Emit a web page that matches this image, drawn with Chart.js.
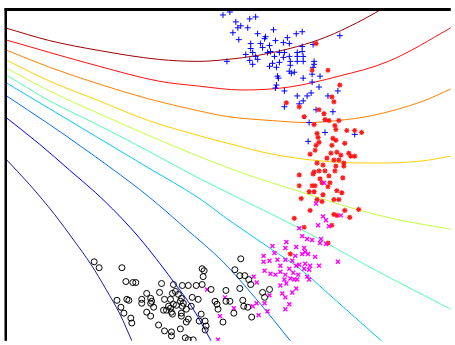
<!DOCTYPE html>
<html>
<head>
<meta charset="utf-8">
<script src="https://cdn.jsdelivr.net/npm/chart.js@4/dist/chart.umd.min.js"></script>
<style>
  html, body { margin: 0; padding: 0; background: #fff; overflow: hidden; }
  canvas { display: block; }
</style>
</head>
<body>
<canvas id="chart" width="455" height="345"></canvas>
<script>
// Sample groups, [x, y] pairs
const groupCircle = [
  [9.5,8.0],[10.0,7.4],[12.3,7.4],[12.7,6.0],[13.4,5.9],[13.7,5.9],[16.3,5.8],[17.5,5.7],[18.4,5.6],[19.0,5.6],
  [19.8,5.6],[20.4,7.3],[20.6,7.1],[20.5,6.5],[20.4,5.7],[21.3,5.2],[11.8,4.1],[12.8,4.2],[13.0,4.1],[14.3,4.2],
  [14.3,3.8],[14.8,4.8],[15.2,4.3],[15.3,4.0],[16.1,4.9],[16.6,4.2],[17.4,4.8],[17.7,5.0],[18.0,4.7],[17.2,4.2],
  [18.2,4.0],[18.5,3.8],[12.2,3.4],[14.8,2.9],[15.5,3.4],[16.5,3.1],[16.8,3.1],[17.2,3.3],[17.3,2.9],[17.4,2.7],
  [18.3,2.8],[19.3,3.5],[20.0,4.2],[21.7,4.0],[21.9,3.7],[22.0,3.2],[12.5,2.8],[15.2,2.5],[18.3,2.5],[19.0,2.2],
  [20.3,2.7],[13.2,2.3],[13.3,1.8],[16.0,1.6],[18.8,1.9],[20.1,2.0],[20.7,2.0],[20.8,1.5],[18.2,1.2],[20.7,1.1],
  [16.6,1.0],[17.3,0.9],[17.3,0.5],[18.7,0.3],[19.0,0.1],[19.5,0.1],[22.5,1.9],[22.8,5.1],[22.8,4.0],[23.2,4.0],
  [24.3,8.3],[23.7,7.2],[24.2,6.6],[24.7,6.6],[25.1,6.2],[25.3,5.7],[24.2,5.3],[26.5,4.9],[27.2,5.2],[26.7,4.4],
  [24.5,4.1],[24.6,3.5],[25.0,3.4],[23.6,2.8],[25.4,2.4],[19.4,4.4],[18.4,3.5],[17.5,3.7],[15.2,3.8],[18.3,4.3],
  [17.8,3.6],[17.0,3.5],[18.8,3.2]
];

const groupX = [
  [31.9,13.9],[32.7,16.0],[32.6,12.6],[32.9,12.2],[32.1,11.7],[33.2,11.6],[30.2,11.4],[34.4,12.7],[30.5,10.6],[31.0,10.3],
  [31.5,10.2],[32.4,10.3],[32.3,9.9],[32.9,9.8],[28.9,10.0],[28.8,9.4],[27.5,9.6],[29.9,9.5],[30.7,9.4],[30.8,9.0],
  [27.7,8.9],[31.1,8.8],[30.5,8.8],[31.8,8.5],[29.8,8.6],[26.6,8.6],[28.0,8.2],[28.8,8.2],[29.5,8.1],[30.2,7.7],
  [30.8,7.8],[31.3,7.6],[32.2,7.6],[34.1,8.0],[26.6,8.0],[27.2,8.1],[28.3,7.6],[29.2,7.3],[29.9,7.6],[30.7,7.3],
  [31.2,7.2],[26.7,7.1],[27.3,6.8],[27.8,6.7],[28.3,7.0],[28.8,6.7],[29.6,6.9],[30.1,6.7],[31.0,6.5],[31.2,6.2],
  [25.6,6.5],[25.9,5.9],[28.7,6.2],[29.3,6.3],[29.7,6.2],[30.0,6.2],[28.3,5.6],[28.9,5.8],[29.9,5.3],[29.5,4.9],
  [28.5,4.8],[28.8,4.4],[27.2,4.6],[25.9,3.8],[26.7,3.8],[29.2,3.7],[28.8,3.2],[25.5,3.5],[27.0,3.0],[26.1,2.6],
  [20.9,5.2],[22.7,4.4],[23.6,3.3],[22.2,2.5],[22.0,0.1]
];

const groupStar = [
  [31.9,30.1],[31.5,27.4],[33.1,27.4],[34.3,25.9],[28.9,24.1],[30.2,23.7],[33.5,24.7],[33.7,24.2],[32.2,23.4],[32.7,23.0],
  [30.7,22.7],[31.7,21.9],[32.8,22.4],[33.2,22.3],[34.2,22.3],[33.8,21.8],[33.9,21.4],[35.0,21.3],[35.8,21.3],[36.5,21.1],
  [32.0,21.0],[32.1,20.6],[32.2,20.1],[31.9,19.8],[33.6,20.5],[33.9,20.3],[33.5,19.8],[34.8,20.0],[31.8,19.3],[31.3,18.9],
  [33.4,19.0],[34.0,19.1],[34.4,18.8],[35.2,19.0],[35.4,18.7],[35.8,18.7],[33.0,18.5],[33.7,18.3],[34.2,18.3],[34.7,18.0],
  [32.0,18.0],[32.6,17.8],[33.9,17.7],[32.8,17.2],[33.8,17.2],[32.2,17.2],[31.7,17.1],[34.7,17.7],[30.2,16.8],[31.6,16.9],
  [33.2,16.7],[32.3,16.4],[32.5,16.0],[33.3,16.0],[34.6,16.5],[30.2,15.7],[31.5,15.7],[31.8,15.7],[33.1,15.6],[31.2,15.1],
  [31.7,15.1],[32.6,14.8],[34.0,15.2],[34.5,15.0],[30.4,14.4],[32.0,14.3],[32.5,14.1],[33.7,14.3],[34.2,14.3],[31.3,13.2],
  [33.7,12.8],[34.0,12.7],[34.8,13.2],[36.2,13.3],[35.3,12.5],[29.7,12.4],[30.7,11.5],[33.5,11.7],[33.1,9.9],[29.3,8.8]
];

const groupPlus = [
  [22.5,33.0],[23.2,33.3],[23.8,32.3],[24.3,31.9],[24.0,31.7],[25.2,32.6],[25.8,32.8],[25.0,31.7],[23.5,31.2],[26.0,31.1],
  [27.6,31.5],[24.1,30.5],[26.8,30.8],[26.7,30.6],[27.8,30.4],[29.0,30.7],[29.9,31.1],[30.5,31.3],[28.6,30.2],[29.2,30.1],
  [25.3,30.1],[25.3,29.6],[26.3,30.1],[26.5,29.7],[27.2,29.9],[27.3,29.3],[27.0,29.2],[24.8,29.0],[25.5,29.2],[25.8,28.8],
  [26.0,28.5],[25.2,28.4],[25.5,28.0],[22.9,28.3],[28.2,29.2],[28.7,29.2],[27.7,28.8],[28.2,28.2],[27.5,28.1],[27.2,27.8],
  [27.9,27.7],[28.6,28.7],[29.2,28.8],[29.3,28.3],[30.0,29.2],[30.5,29.8],[30.5,29.3],[30.0,28.8],[30.6,28.8],[30.6,28.3],
  [30.0,28.3],[31.6,30.0],[29.3,27.9],[29.2,27.3],[29.7,27.2],[29.4,27.1],[28.0,26.8],[28.1,26.6],[31.7,28.3],[31.7,28.0],
  [31.6,27.7],[30.6,26.6],[31.5,27.0],[32.3,26.8],[31.5,26.2],[27.9,25.9],[27.8,25.6],[28.7,25.3],[30.0,24.8],[30.6,24.3],
  [31.0,24.8],[31.4,25.1],[28.7,23.7],[33.1,24.8],[34.1,25.3],[34.3,30.9],[30.2,24.0],[31.9,23.4],[33.6,23.2],[31.2,22.1],
  [32.8,21.1],[31.1,20.2],[35.8,20.9],[32.2,25.7]
];

// Contour lines, lowest level first, traced as [x, y] pairs
const contourLevels = [
  [[0.5,18.5],[3,15.8],[5.5,12.8],[7.5,10.1],[9.2,7.7],[10.7,5.2],[12.1,2.7],[13.3,0],[13.7,-0.9]],
  [[0.5,22.7],[4,19.9],[7,17.3],[10.5,14.2],[14,10.5],[17.5,6],[19.5,3.2],[21.3,0],[21.8,-0.9]],
  [[0.5,24.9],[5,21.9],[11.2,17.5],[15,14.6],[18.7,11.4],[22.5,8],[25.8,4.3],[29.3,0],[30,-0.9]],
  [[0.5,26.2],[5,23.5],[10,20.5],[15,17.5],[20,14.5],[23,12.3],[27.5,9.2],[30,7.5],[34,4],[38.5,0],[39.5,-0.9]],
  [[0.5,27.0],[5,24.3],[10,21.8],[15,19.2],[20,16.5],[23,15.0],[30.2,11.4],[37.8,7.2],[45.5,3.2]],
  [[0.5,27.7],[5,25.3],[10,23.0],[15,20.8],[20,18.7],[25,16.8],[30,15.2],[36,13.3],[40,12.3],[45.5,11.3]],
  [[0.5,28.5],[5,26.3],[10,24.3],[15,22.3],[20,20.8],[23,20.0],[27.5,18.9],[32.5,18.2],[37.5,18.0],[42.5,18.2],[45.5,18.7]],
  [[0.5,29.5],[5,27.7],[10,26.0],[15,24.5],[20,23.3],[23,22.7],[27.5,22.3],[31,22.1],[34,22.3],[37.5,22.8],[42.5,24.2],[45.5,25.5]],
  [[0.5,30.5],[5,29.2],[10,27.8],[16,26.3],[20,25.8],[24.5,25.4],[29.2,25.7],[34.2,26.8],[39.2,28.3],[45.5,31.7],[46,32.0]],
  [[0.5,31.7],[5,30.4],[10,29.4],[16,28.5],[20,28.3],[23,28.5],[26,28.9],[30,29.8],[33,30.8],[36,32.2],[38.5,33.6],[39.2,34.1]]
];

const contourColors = [
  '#1c1ca0', '#0000ff', '#0070ff', '#00c8ff', '#50ffb0',
  '#c0ff40', '#ffd000', '#ff8000', '#ff1010', '#9a0000'
];

const toPoints = arr => arr.map(([x, y]) => ({ x, y }));

const sampleSets = [
  {
    data: toPoints(groupCircle), pointStyle: 'circle', pointRadius: 3,
    borderColor: '#000000', backgroundColor: 'rgba(0,0,0,0)', pointBorderWidth: 1
  },
  {
    data: toPoints(groupX), pointStyle: 'crossRot', pointRadius: 2.8,
    borderColor: '#ff00ff', backgroundColor: '#ff00ff', pointBorderWidth: 1.4
  },
  {
    data: toPoints(groupStar), pointStyle: 'star', pointRadius: 2.6,
    borderColor: '#ff1a1a', backgroundColor: '#ff1a1a', pointBorderWidth: 1.2
  },
  {
    data: toPoints(groupPlus), pointStyle: 'cross', pointRadius: 3,
    borderColor: '#0000ff', backgroundColor: '#0000ff', pointBorderWidth: 1
  }
].map(d => Object.assign({ showLine: false, pointHoverRadius: 0 }, d));

const contourSets = contourLevels.map((pts, i) => ({
  data: toPoints(pts),
  showLine: true,
  pointRadius: 0,
  pointHoverRadius: 0,
  borderWidth: 1,
  borderColor: contourColors[i],
  backgroundColor: contourColors[i],
  fill: false,
  cubicInterpolationMode: 'monotone'
}));

// Thick axes frame along the top and left edges of the plot area
const framePlugin = {
  id: 'frame',
  afterDraw(chart) {
    const { ctx, chartArea: a } = chart;
    ctx.save();
    ctx.fillStyle = '#000';
    ctx.fillRect(a.left - 2.5, a.top - 3, a.right - a.left + 2.5, 3);
    ctx.fillRect(a.left - 2.5, a.top - 3, 2.5, a.bottom - a.top + 3);
    ctx.restore();
  }
};

new Chart(document.getElementById('chart'), {
  type: 'scatter',
  data: { datasets: sampleSets.concat(contourSets) },
  options: {
    responsive: false,
    animation: false,
    devicePixelRatio: 1,
    events: [],
    layout: { padding: { left: 7, top: 11, right: 0, bottom: 0 } },
    scales: {
      x: { type: 'linear', min: 0.7, max: 45.5, display: false },
      y: { type: 'linear', min: 0, max: 33.4, display: false }
    },
    plugins: {
      legend: { display: false },
      tooltip: { enabled: false }
    }
  },
  plugins: [framePlugin]
});
</script>
</body>
</html>
